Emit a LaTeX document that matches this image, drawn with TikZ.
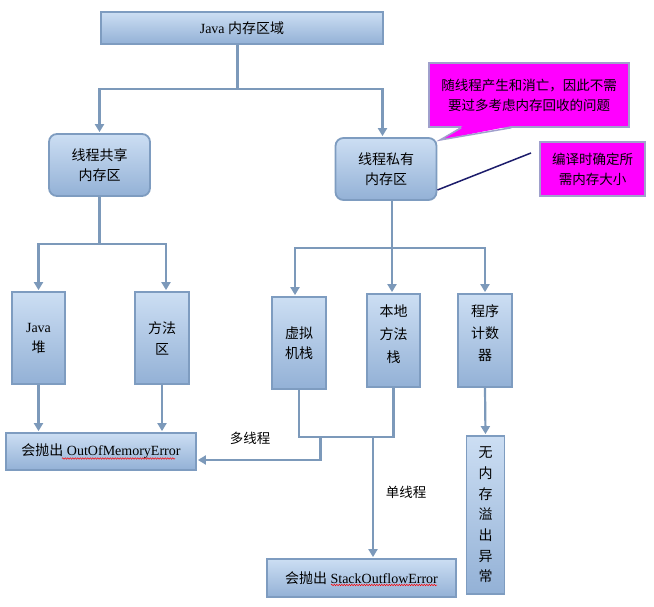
\documentclass[tikz,border=0pt]{standalone}
\usepackage{fontspec}
\setmainfont{Liberation Serif}
\newfontfamily\cjk{Noto Sans CJK SC}
\usetikzlibrary{arrows.meta,calc,decorations.pathmorphing}
\definecolor{boxtop}{HTML}{CCDEF3}
\definecolor{boxbot}{HTML}{93B1D6}
\definecolor{boxline}{HTML}{7E9CC0}
\definecolor{linecol}{HTML}{7C99BA}
\definecolor{mag}{HTML}{FF00FF}
\definecolor{magline}{HTML}{A0A0CC}
\definecolor{navyline}{HTML}{1C1C6B}
\newcommand{\zh}[1]{{\cjk #1}}
\begin{document}
\begin{tikzpicture}[x=1pt,y=-1pt,
  bbox/.style={draw=boxline, line width=1.8pt, top color=boxtop, bottom color=boxbot, inner sep=0pt, align=center},
  rbox/.style={bbox, rounded corners=8pt},
  zhfont/.style={font=\cjk\fontsize{14}{#1}\selectfont},
  notefont/.style={font=\cjk\fontsize{13.5}{#1}\selectfont},
  lafont/.style={font=\fontsize{14}{#1}\selectfont},
  conn/.style={draw=linecol, line width=2.2pt},
  arr/.style={conn, -{Triangle[width=9pt,length=8pt]}, shorten >=1pt},
  magbox/.style={fill=mag, draw=magline, line width=1.5pt, align=center, inner sep=0pt},
  lbl/.style={font=\cjk\fontsize{13.5}{16}\selectfont},
  wavy/.style={draw=red, line width=0.5pt, decorate, decoration={snake, amplitude=0.7pt, segment length=2.5pt}}
]
\useasboundingbox[fill=white] (0,0) rectangle (654,607);

% nodes
\node[bbox, minimum width=282pt, minimum height=32pt, lafont=16] (top) at (242,28) {Java \zh{内存区域}};
\node[rbox, minimum width=101pt, minimum height=62pt, zhfont=20] (shared) at (99.5,165) {线程共享\\内存区};
\node[rbox, minimum width=101pt, minimum height=62pt, zhfont=20] (private) at (386,169) {线程私有\\内存区};
\node[magbox, minimum width=200pt, minimum height=64pt, notefont=20] (note1) at (529,95) {随线程产生和消亡，因此不需\\要过多考虑内存回收的问题};
\node[magbox, minimum width=105pt, minimum height=54pt, notefont=20] (note2) at (592.5,169) {编译时确定所\\需内存大小};

\node[bbox, minimum width=53pt, minimum height=92pt, lafont=20] (heap) at (38.5,338) {Java\\\zh{堆}};
\node[bbox, minimum width=54pt, minimum height=92pt, zhfont=21] (method) at (162,338) {方法\\区};
\node[bbox, minimum width=54pt, minimum height=92pt, zhfont=20] (vms) at (299,343) {虚拟\\机栈};
\node[bbox, minimum width=53pt, minimum height=93pt,
  label={[anchor=north, yshift=-8pt, align=center, zhfont=23]north:{本地\\方法\\栈}}] (native) at (393.5,340.5) {};
\node[bbox, minimum width=54pt, minimum height=93pt,
  label={[anchor=north, yshift=-8pt, align=center, zhfont=22]north:{程序\\计数\\器}}] (pc) at (485,340.5) {};

\node[bbox, minimum width=190pt, minimum height=37pt, lafont=16] (oom) at (101,451.5) {\zh{会抛出} OutOfMemoryError};
\node[bbox, minimum width=189pt, minimum height=38pt, lafont=16] (soe) at (361.5,578) {\zh{会抛出} StackOutflowError};
\node[bbox, minimum width=38pt, minimum height=158pt, zhfont=20.67] (none) at (485.5,515) {无\\内\\存\\溢\\出\\异\\常};

\node[lbl] (multi) at (250,438) {多线程};
\node[lbl] (single) at (406,492) {单线程};

% callout pointer
\coordinate (tip1) at (440,140);
\fill[mag] ($(note1.south west)+(34,-1.5)$) -- (tip1) -- ($(note1.south west)+(82,-1.5)$) -- cycle;
\draw[magline, line width=1.5pt, line join=miter] ($(note1.south west)+(33,0)$) -- (tip1) -- ($(note1.south west)+(83,0)$);

% note2 connector
\coordinate (n2tip) at (531,153);
\draw[navyline, line width=1.5pt] ($(private.east)+(0,21)$) -- (n2tip);

% top level
\draw[conn] ($(top.south)+(-4.5,0)$) -- ++(0,44) coordinate (j1);
\draw[arr] (j1) -| (shared.north);
\draw[arr] (j1) -| ($(private.north)+(-3.5,0)$);

% shared
\draw[conn] (shared.south) -- ++(0,47) coordinate (j2);
\draw[arr] (j2) -| (heap.north);
\draw[arr] (j2) -| ($(method.north)+(4,0)$);

% private
\draw[conn] ($(private.south)+(6,0)$) -- ++(0,47) coordinate (j3);
\draw[arr] (j3) -| ($(vms.north)+(-4,0)$);
\draw[arr] (j3) -| ($(native.north)+(-1.5,0)$);
\draw[arr] (j3) -| (pc.north);

% to errors
\draw[arr] (heap.south) -- (heap.south |- oom.north);
\draw[arr] (method.south) -- (method.south |- oom.north);
\path (vms.south) ++(0,47) coordinate (j4);
\draw[conn] (vms.south) -- (j4) -- (j4 -| native.south) -- (native.south);
\coordinate (j6) at ($(j4)+(21.5,0)$);
\draw[arr] (j6) |- ($(oom.east)+(0,8.5)$);
\coordinate (j7) at ($(j4)+(74,0)$);
\draw[arr] (j7) -- (j7 |- soe.north);
\draw[arr] (pc.south) -- (none.north);

% spell-check underlines
\draw[wavy] ($(oom.center)+(-39,7)$) -- ++(113,0);
\draw[wavy] ($(soe.center)+(-30.5,7)$) -- ++(106,0);
\end{tikzpicture}
\end{document}
